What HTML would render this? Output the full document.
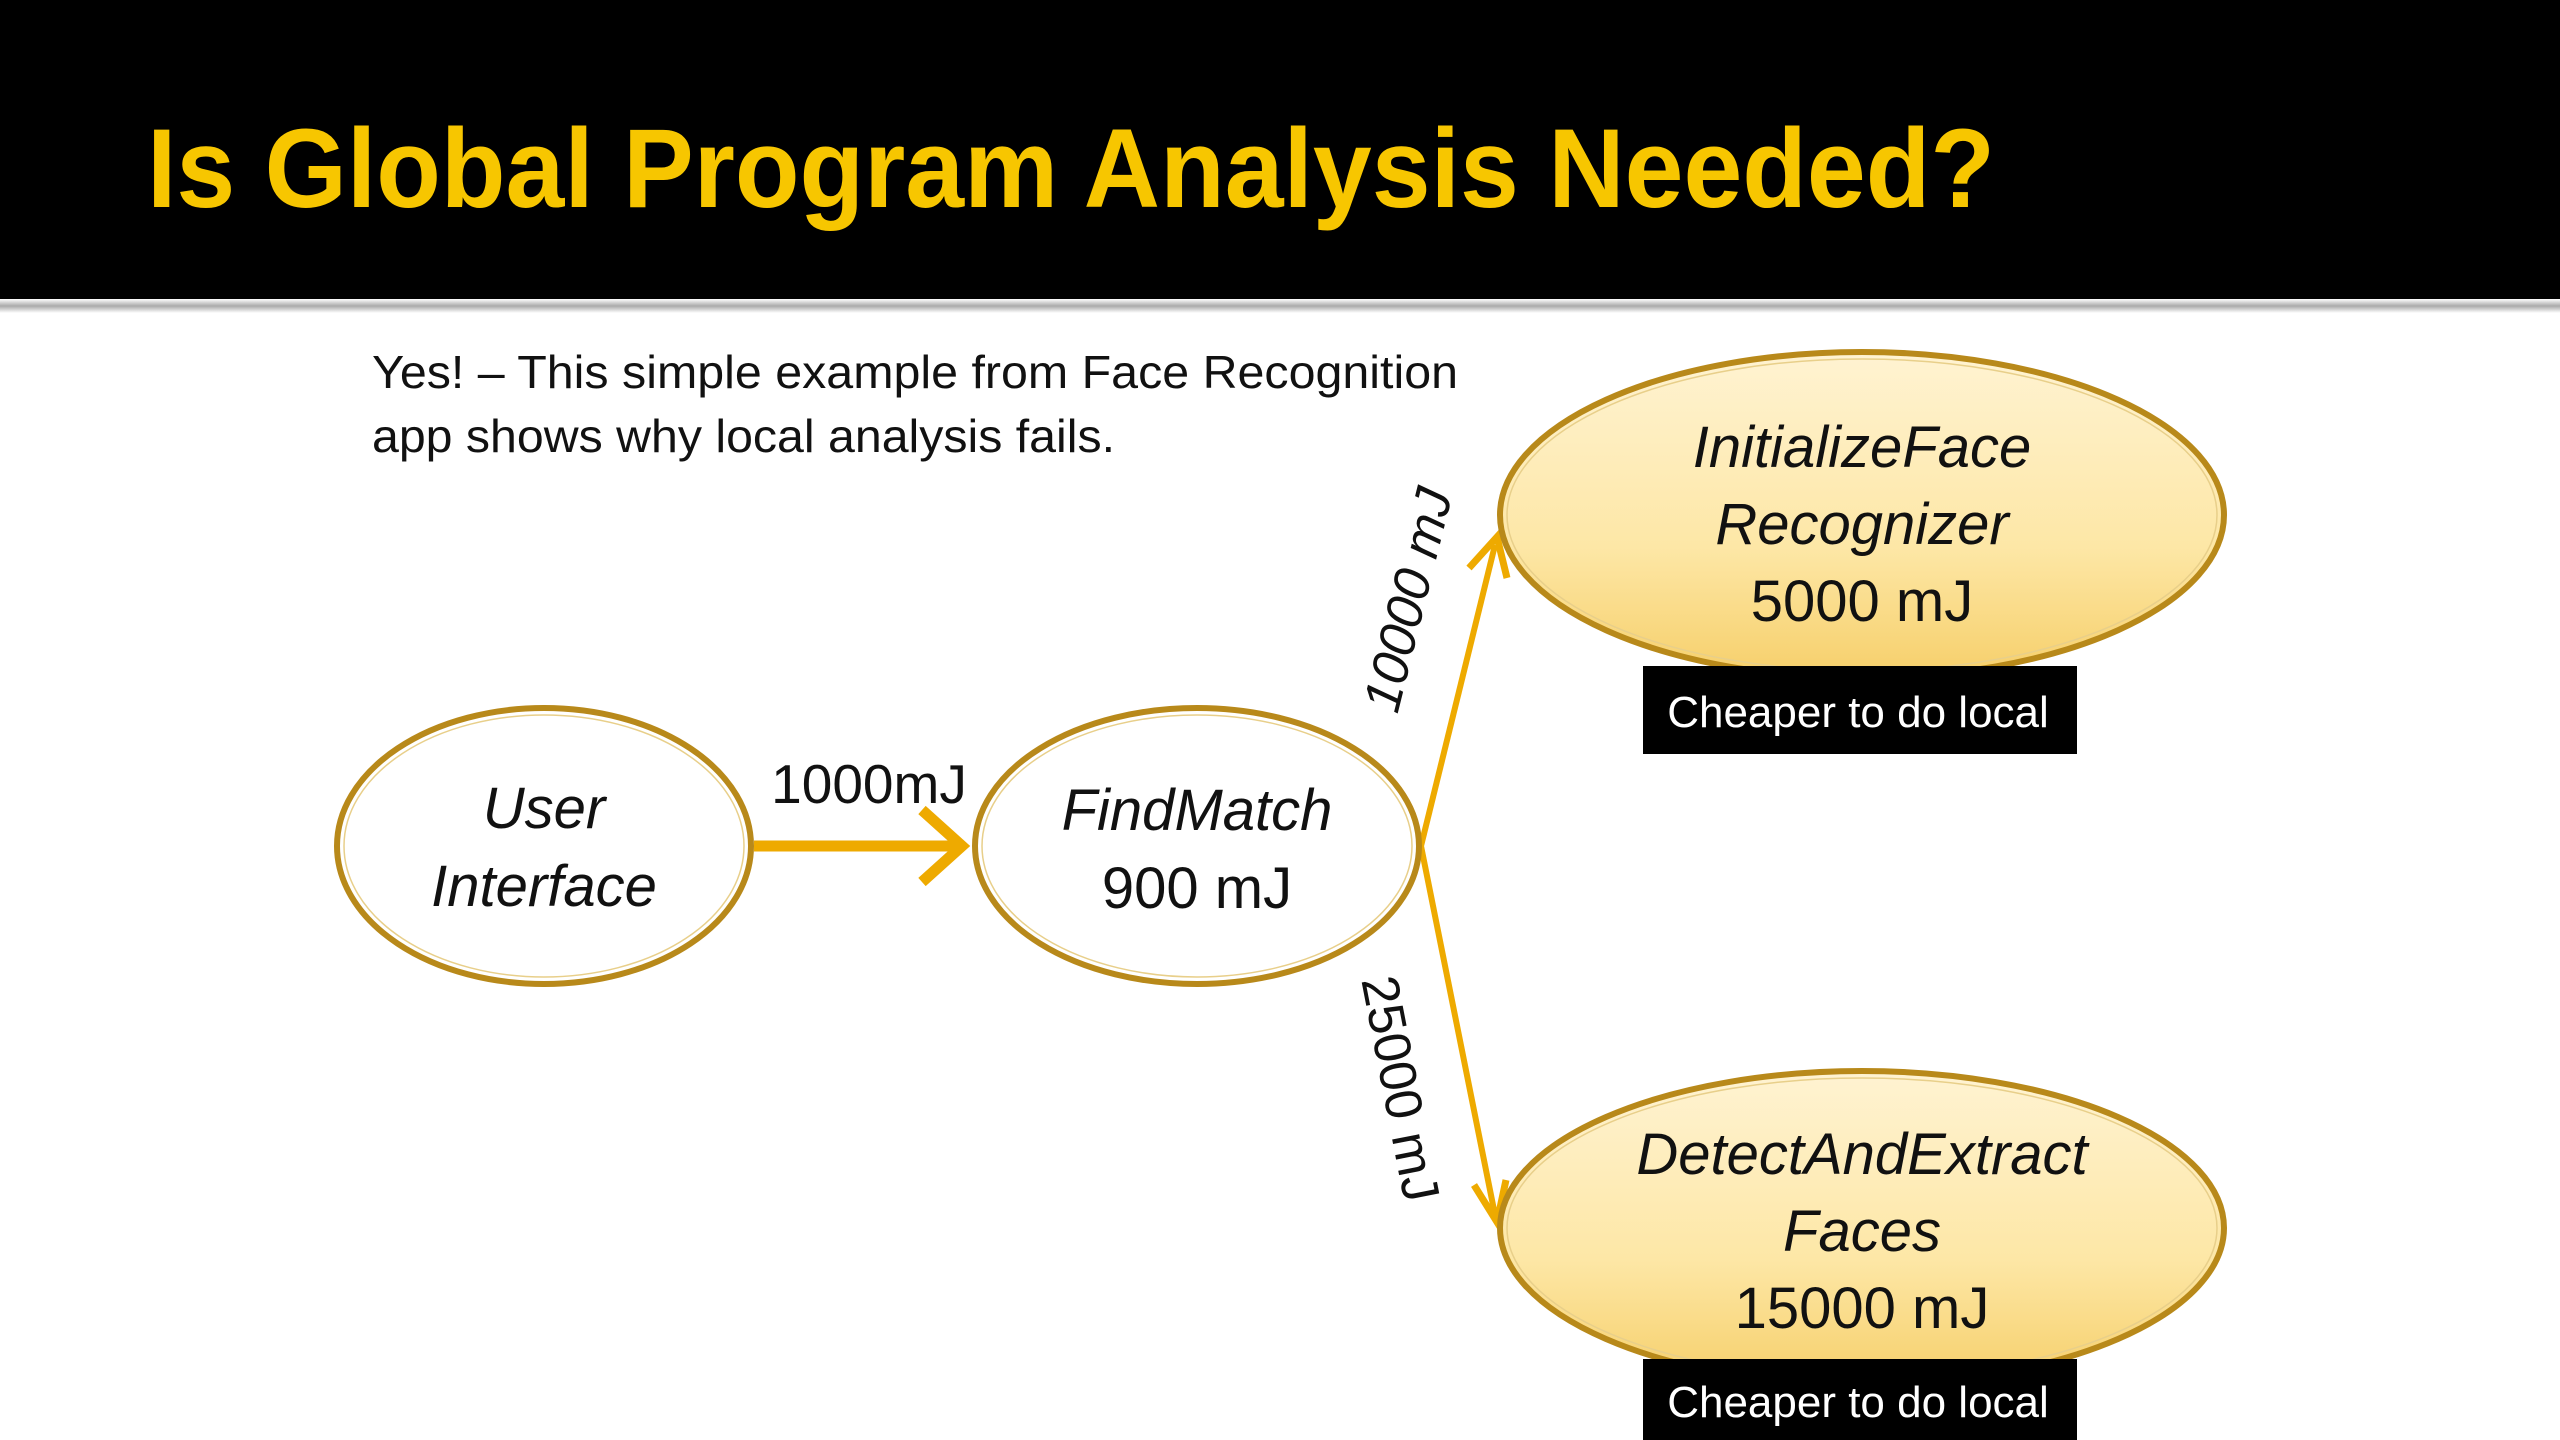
<!DOCTYPE html>
<html><head><meta charset="utf-8"><style>
html,body{margin:0;padding:0;width:2560px;height:1440px;overflow:hidden;background:#fff}
svg{display:block}
text{font-family:"Liberation Sans",sans-serif}
</style></head><body>
<svg width="2560" height="1440" viewBox="0 0 2560 1440" xmlns="http://www.w3.org/2000/svg">
<defs>
<linearGradient id="g" x1="0" y1="0" x2="0" y2="1">
<stop offset="0" stop-color="#fff3d2"/><stop offset="0.6" stop-color="#fde7a6"/><stop offset="1" stop-color="#f6cf6a"/>
</linearGradient>
<linearGradient id="sep" x1="0" y1="0" x2="0" y2="1">
<stop offset="0" stop-color="#fff"/><stop offset="0.5" stop-color="#aaa"/><stop offset="1" stop-color="#fff"/>
</linearGradient>
</defs>
<rect x="0" y="0" width="2560" height="299" fill="#000"/>
<rect x="0" y="299" width="2560" height="14" fill="url(#sep)"/>
<text x="147" y="207" font-size="112" font-weight="bold" fill="#f7c600" textLength="1848" lengthAdjust="spacingAndGlyphs">Is Global Program Analysis Needed?</text>
<text x="372" y="388" font-size="46" fill="#111" textLength="1086" lengthAdjust="spacingAndGlyphs">Yes! – This simple example from Face Recognition</text>
<text x="372" y="452" font-size="46" fill="#111" textLength="743" lengthAdjust="spacingAndGlyphs">app shows why local analysis fails.</text>

<!-- connectors -->
<line x1="754" y1="846" x2="960" y2="846" stroke="#eeaa00" stroke-width="11"/>
<polyline points="922,810 962,846 922,882" fill="none" stroke="#eeaa00" stroke-width="11"/>
<line x1="1421" y1="846" x2="1495" y2="545" stroke="#eeaa00" stroke-width="6"/>
<polyline points="1469,568 1497,537 1507,578" fill="none" stroke="#eeaa00" stroke-width="7"/>
<line x1="1421" y1="846" x2="1495" y2="1215" stroke="#eeaa00" stroke-width="6"/>
<polyline points="1474,1185 1497,1222 1506,1180" fill="none" stroke="#eeaa00" stroke-width="7"/>

<text x="869" y="803" font-size="55" fill="#111" text-anchor="middle">1000mJ</text>
<text transform="translate(1425,604) rotate(-76)" font-size="52" fill="#111" text-anchor="middle" font-style="italic">10000 mJ</text>
<text transform="translate(1383,1092) rotate(79)" font-size="52" fill="#111" text-anchor="middle">25000 mJ</text>

<!-- nodes -->
<g stroke="#b8891a" stroke-width="6">
<ellipse cx="544" cy="846" rx="207" ry="138" fill="#fff"/>
<ellipse cx="1197" cy="846" rx="222" ry="138" fill="#fff"/>
<ellipse cx="1862" cy="515" rx="362" ry="163" fill="url(#g)"/>
<ellipse cx="1862" cy="1228" rx="362" ry="157" fill="url(#g)"/>
</g>
<g stroke="#e8cf8a" stroke-width="1.5" fill="none">
<ellipse cx="544" cy="846" rx="200" ry="131"/>
<ellipse cx="1197" cy="846" rx="215" ry="131"/>
<ellipse cx="1862" cy="515" rx="355" ry="156"/>
<ellipse cx="1862" cy="1228" rx="355" ry="150"/>
</g>

<g font-size="58" fill="#111" text-anchor="middle">
<text x="544" y="828" font-style="italic">User</text>
<text x="544" y="906" font-style="italic">Interface</text>
<text x="1197" y="830" font-style="italic">FindMatch</text>
<text x="1197" y="908">900 mJ</text>
<text x="1862" y="467" font-style="italic">InitializeFace</text>
<text x="1862" y="544" font-style="italic">Recognizer</text>
<text x="1862" y="621">5000 mJ</text>
<text x="1862" y="1174" font-style="italic">DetectAndExtract</text>
<text x="1862" y="1251" font-style="italic">Faces</text>
<text x="1862" y="1328">15000 mJ</text>
</g>

<rect x="1643" y="666" width="434" height="88" fill="#000"/>
<rect x="1643" y="1359" width="434" height="81" fill="#000"/>
<text x="1858" y="727" font-size="44" fill="#fff" text-anchor="middle">Cheaper to do local</text>
<text x="1858" y="1417" font-size="44" fill="#fff" text-anchor="middle">Cheaper to do local</text>
</svg>
</body></html>
